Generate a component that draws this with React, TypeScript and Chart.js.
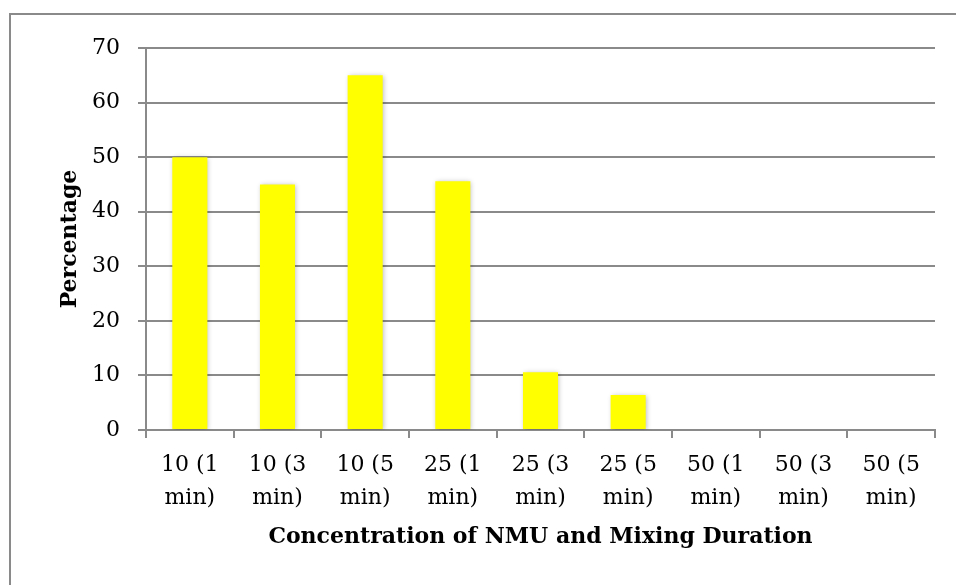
import React, { useEffect, useRef } from "react";
import { Chart, registerables } from "chart.js";

Chart.register(...registerables);

const categories: string[][] = [
  ["10 (1", "min)"],
  ["10 (3", "min)"],
  ["10 (5", "min)"],
  ["25 (1", "min)"],
  ["25 (3", "min)"],
  ["25 (5", "min)"],
  ["50 (1", "min)"],
  ["50 (3", "min)"],
  ["50 (5", "min)"],
];
const percentages = [50, 45, 65, 45.6, 10.6, 6.4, 0, 0, 0];
const yMin = 0;
const yMax = 70;
const yStep = 10;
const xTitle = "Concentration of NMU and Mixing Duration";
const yTitle = "Percentage";

const FONT = "'DejaVu Serif', 'Liberation Serif', serif";
const GRAY = "#8a8a8a";

const shadowPlugin = {
  id: "barShadow",
  beforeDatasetDraw(chart: any) {
    const ctx = chart.ctx;
    ctx.save();
    ctx.shadowColor = "rgba(0,0,0,0.28)";
    ctx.shadowBlur = 5;
    ctx.shadowOffsetX = 1;
    ctx.shadowOffsetY = 1;
  },
  afterDatasetDraw(chart: any) {
    chart.ctx.restore();
  },
};

export default function App() {
  const ref = useRef<HTMLCanvasElement | null>(null);
  useEffect(() => {
    if (!ref.current) return;
    const chart = new Chart(ref.current, {
      type: "bar",
      data: {
        labels: categories,
        datasets: [
          {
            data: percentages,
            backgroundColor: "#ffff00",
            borderWidth: 0,
            categoryPercentage: 1,
            barPercentage: 0.4,
          },
        ],
      },
      plugins: [shadowPlugin],
      options: {
        animation: false,
        responsive: false,
        maintainAspectRatio: false,
        layout: { padding: { left: 0, right: 21, top: 48, bottom: 0 } },
        plugins: {
          legend: { display: false },
          tooltip: { enabled: false },
        },
        scales: {
          x: {
            offset: true,
            grid: {
              display: true,
              drawOnChartArea: false,
              drawTicks: true,
              tickLength: 8,
              color: GRAY,
              lineWidth: 2,
              offset: true,
            },
            border: { display: true, color: GRAY, width: 2 },
            ticks: {
              color: "#000",
              padding: 11,
              maxRotation: 0,
              autoSkip: false,
              font: { family: FONT, size: 22, lineHeight: 1.5 },
            },
            title: {
              display: true,
              text: xTitle,
              color: "#000",
              font: { family: FONT, size: 22, weight: "bold", lineHeight: 1.2 },
              padding: { top: 0, bottom: 35 },
            },
            afterFit(scale: any) {
              scale.height = 155;
            },
          },
          y: {
            min: yMin,
            max: yMax,
            ticks: {
              stepSize: yStep,
              color: "#000",
              padding: 18,
              font: { family: FONT, size: 22 },
            },
            grid: {
              color: GRAY,
              lineWidth: 2,
              tickLength: 8,
              drawTicks: true,
            },
            border: { display: true, color: GRAY, width: 2 },
            title: {
              display: true,
              text: yTitle,
              color: "#000",
              font: { family: FONT, size: 22, weight: "bold", lineHeight: 1.2 },
              padding: { top: 57, bottom: 0 },
            },
            afterFit(scale: any) {
              scale.width = 146;
            },
          },
        },
      },
    });
    return () => chart.destroy();
  }, []);

  return (
    <div style={{ position: "absolute", left: 0, top: 0, width: 956, height: 585, overflow: "hidden", background: "#fff" }}>
      <div
        style={{
          position: "absolute",
          left: 9,
          top: 13,
          width: 1000,
          height: 700,
          border: `2px solid ${GRAY}`,
          boxSizing: "border-box",
        }}
      />
      <canvas ref={ref} width={956} height={585} style={{ position: "absolute", left: 0, top: 0, width: 956, height: 585 }} />
    </div>
  );
}
